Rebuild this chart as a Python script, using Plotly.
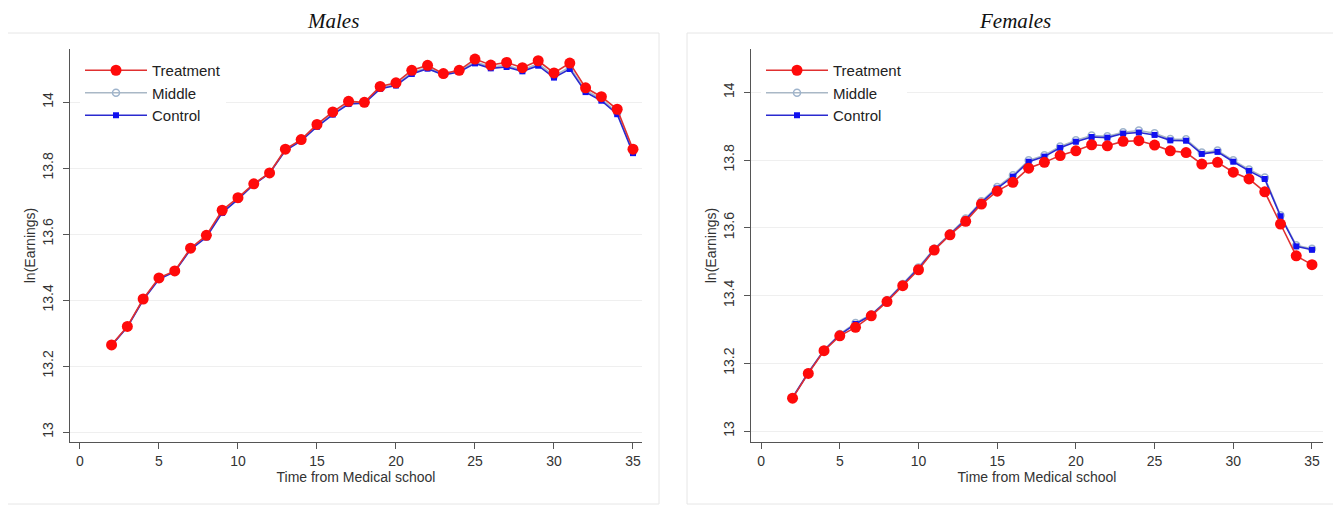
import plotly.graph_objects as go

years = list(range(2, 36))

male_treatment = [13.264, 13.320, 13.403, 13.467, 13.488, 13.557, 13.596, 13.672, 13.710, 13.752,
                  13.785, 13.857, 13.886, 13.932, 13.970, 14.002, 13.999, 14.047, 14.058, 14.096,
                  14.111, 14.086, 14.096, 14.130, 14.112, 14.120, 14.104, 14.125, 14.088, 14.118,
                  14.043, 14.016, 13.978, 13.857]
male_middle = [13.263, 13.319, 13.401, 13.465, 13.487, 13.555, 13.592, 13.667, 13.707, 13.751,
               13.785, 13.855, 13.884, 13.928, 13.965, 13.997, 13.998, 14.043, 14.053, 14.089,
               14.105, 14.084, 14.094, 14.122, 14.106, 14.111, 14.097, 14.116, 14.079, 14.106,
               14.035, 14.009, 13.968, 13.849]
male_control = [13.262, 13.318, 13.400, 13.463, 13.486, 13.553, 13.590, 13.664, 13.705, 13.750,
                13.784, 13.853, 13.882, 13.925, 13.962, 13.994, 13.996, 14.040, 14.050, 14.085,
                14.101, 14.082, 14.091, 14.117, 14.102, 14.106, 14.093, 14.110, 14.074, 14.100,
                14.030, 14.004, 13.963, 13.845]

female_treatment = [13.097, 13.170, 13.237, 13.281, 13.306, 13.340, 13.382, 13.429, 13.476, 13.534,
                    13.579, 13.619, 13.670, 13.708, 13.734, 13.776, 13.793, 13.813, 13.827, 13.845,
                    13.842, 13.855, 13.857, 13.844, 13.827, 13.822, 13.788, 13.793, 13.764, 13.744,
                    13.706, 13.611, 13.517, 13.491]
female_middle = [13.099, 13.173, 13.239, 13.286, 13.319, 13.344, 13.386, 13.434, 13.483, 13.538,
                 13.583, 13.627, 13.678, 13.720, 13.755, 13.799, 13.814, 13.840, 13.858, 13.872,
                 13.870, 13.882, 13.887, 13.879, 13.862, 13.861, 13.822, 13.828, 13.799, 13.772,
                 13.748, 13.637, 13.548, 13.538]
female_control = [13.098, 13.172, 13.238, 13.284, 13.316, 13.342, 13.384, 13.432, 13.480, 13.536,
                  13.581, 13.624, 13.675, 13.716, 13.751, 13.795, 13.810, 13.836, 13.854, 13.868,
                  13.866, 13.878, 13.881, 13.874, 13.858, 13.857, 13.818, 13.824, 13.795, 13.768,
                  13.744, 13.634, 13.545, 13.535]

panel_titles = ["Males", "Females"]
x_ticks = [0, 5, 10, 15, 20, 25, 30, 35]
y_ticks = [13.0, 13.2, 13.4, 13.6, 13.8, 14.0]
y_tick_text = ["13", "13.2", "13.4", "13.6", "13.8", "14"]
x_title = "Time from Medical school"
y_title = "ln(Earnings)"
series_names = ["Treatment", "Middle", "Control"]

# the page body has an 8px margin: the figure is drawn 8px right/down in the window
OFF = 8
W, H = 1341 - OFF, 506 - OFF


def px(X):
    return (X - OFF) / W


def py(Y):
    return 1 - (Y - OFF) / H


fig = go.Figure()

panels = [
    dict(xa="x", ya="y", leg="legend", data=(male_treatment, male_middle, male_control)),
    dict(xa="x2", ya="y2", leg="legend2", data=(female_treatment, female_middle, female_control)),
]

for p in panels:
    tr, mid, ctl = p["data"]
    fig.add_trace(go.Scatter(x=years, y=mid, name=series_names[1], xaxis=p["xa"], yaxis=p["ya"],
                             legend=p["leg"], legendrank=2, mode="lines+markers",
                             line=dict(color="#a9b8c6", width=1.6),
                             marker=dict(symbol="circle-open", size=7, color="#9fb4cc",
                                         line=dict(width=1.5, color="#9fb4cc"))))
    fig.add_trace(go.Scatter(x=years, y=ctl, name=series_names[2], xaxis=p["xa"], yaxis=p["ya"],
                             legend=p["leg"], legendrank=3, mode="lines+markers",
                             line=dict(color="#2a2ad0", width=1.6),
                             marker=dict(symbol="square", size=6, color="#1010f0")))
    fig.add_trace(go.Scatter(x=years, y=tr, name=series_names[0], xaxis=p["xa"], yaxis=p["ya"],
                             legend=p["leg"], legendrank=1, mode="lines+markers",
                             line=dict(color="#e03030", width=1.6),
                             marker=dict(symbol="circle", size=11, color="#ff0a0a")))

axis_common = dict(showline=True, linecolor="#555555", linewidth=1.3, ticks="outside", ticklen=6,
                   tickcolor="#555555", tickfont=dict(family="Liberation Sans, Arial", size=14, color="#333333"),
                   zeroline=False, mirror=False, automargin=False)

x_domains = [[px(70), px(642)], [px(751), px(1323)]]
y_dom = [py(442), py(49)]
y_ranges = [[13 - 10 / 330, 13 + 383 / 330], [13 - 11 / 338.75, 13 + 382 / 338.75]]
x_ranges = [[-0.63, 35.57], [-0.64, 35.7]]

for i in range(2):
    sfx = "" if i == 0 else str(i + 1)
    fig.update_layout(**{
        "xaxis" + sfx: dict(axis_common, domain=x_domains[i], range=x_ranges[i], anchor="y" + sfx,
                            tickvals=x_ticks, showgrid=False,
                            title=dict(text=x_title, standoff=2,
                                       font=dict(family="Liberation Sans, Arial", size=14, color="#333333"))),
        "yaxis" + sfx: dict(axis_common, domain=y_dom, range=y_ranges[i], anchor="x" + sfx,
                            tickvals=y_ticks, ticktext=y_tick_text, tickangle=-90,
                            ticklabelstandoff=4,
                            showgrid=True, gridcolor="#efefef", gridwidth=1,
                            title=dict(text=y_title, standoff=1,
                                       font=dict(family="Liberation Sans, Arial", size=14, color="#333333"))),
    })

legend_common = dict(bgcolor="white", borderwidth=0, itemwidth=62, tracegroupgap=0,
                     font=dict(family="Liberation Sans, Arial", size=15, color="#222222"),
                     xanchor="left", yanchor="top", itemclick=False)
fig.update_layout(
    legend=dict(legend_common, x=px(80), y=py(54)),
    legend2=dict(legend_common, x=px(761), y=py(54)),
)

for x0, x1 in [(5, 659), (687, 1336)]:
    fig.add_shape(type="rect", xref="paper", yref="paper", x0=px(x0), x1=px(x1),
                  y0=py(504), y1=py(33), line=dict(color="#e6e6e6", width=1),
                  fillcolor="rgba(0,0,0,0)", layer="below")

for t, cx in zip(panel_titles, [333, 1015]):
    fig.add_annotation(text="<i>" + t + "</i>", xref="paper", yref="paper", x=px(cx), y=1.0,
                       showarrow=False, xanchor="center", yanchor="top", borderpad=0,
                       font=dict(family="Liberation Serif, Times New Roman", size=21, color="#111111"))

fig.update_layout(width=W, height=H, margin=dict(l=0, r=0, t=0, b=0, autoexpand=False),
                  paper_bgcolor="white", plot_bgcolor="white", showlegend=True)

fig.write_html("out.html")
